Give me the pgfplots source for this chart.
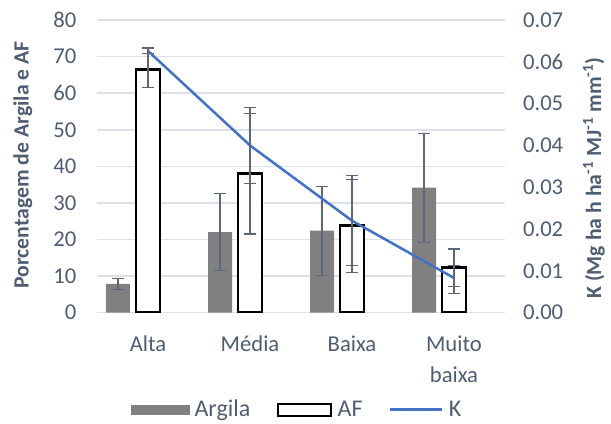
\documentclass[border=0pt]{standalone}
\usepackage{pgfplots}
\pgfplotsset{compat=1.18}
\usepackage{fontspec}
\setmainfont{Carlito}

\definecolor{txt}{HTML}{4F5D73}
\definecolor{gridc}{HTML}{DCE0E8}
\definecolor{argila}{HTML}{808080}
\definecolor{kblue}{HTML}{4472C4}
\definecolor{errc}{HTML}{5C6879}

\pgfplotsset{
  base/.style={
    scale only axis, width=306pt, height=219.5pt,
    xmin=-0.5, xmax=3.5, at={(0,0)},
    major tick length=0pt,
    tick label style={text=txt, font=\fontsize{17}{23.5}\selectfont},
    /pgf/number format/assume math mode=true,
  },
  errs/.style={
    error bars/.cd, y dir=both, y explicit,
    error bar style={errc, line width=0.8pt},
    error mark options={rotate=90, errc, mark size=4.8pt, line width=0.8pt},
  },
}

\begin{document}
\begin{tikzpicture}
\useasboundingbox (-72.75pt,-83.5pt) rectangle (385.5pt,234.5pt);

% Left axis: clay and AF percentages as bars
\begin{axis}[base,
  ybar, bar width=18pt,
  ymin=0, ymax=80, ytick={0,10,...,80},
  ymajorgrids, grid style={gridc, line width=1.2pt},
  axis y line*=left, axis x line*=bottom,
  y axis line style={draw=none},
  x axis line style={gridc, line width=1.2pt, -},
  xtick={0,1,2,3},
  xticklabels={Alta,Média,Baixa,{Muito\\baixa}},
  xticklabel style={align=center, yshift=-14pt},
  yticklabel style={xshift=-12pt},
  ylabel={Porcentagem de Argila e AF},
  ylabel style={at={(axis description cs:-0.182,0.505)}, anchor=center,
    text=txt, font=\bfseries\fontsize{16.3}{20}\selectfont},
]
\addplot[fill=argila, draw=none, bar shift=-22.5pt, errs] coordinates {
  (0,7.9)  +- (0,1.5)
  (1,22.0) +- (0,10.6)
  (2,22.4) +- (0,12.2)
  (3,34.2) +- (0,14.9)
};
\addplot[fill=white, draw=black, line width=1.8pt, bar shift=0pt, errs] coordinates {
  (0,66.5) += (0,5.9)  -= (0,5.0)
  (1,38.0) +- (0,16.5)
  (2,23.8) +- (0,12.7)
  (3,12.4) += (0,5.0)  -= (0,7.1)
};
\end{axis}

% Right axis: erodibility K as a line
\begin{axis}[base,
  ymin=0, ymax=0.07, ytick={0,0.01,...,0.07},
  axis y line*=right, axis x line=none,
  y axis line style={draw=none},
  yticklabel style={xshift=10pt, /pgf/number format/.cd, fixed, fixed zerofill, precision=2},
  scaled y ticks=false,
  ylabel={K (Mg ha h ha\textsuperscript{-1} MJ\textsuperscript{-1} mm\textsuperscript{-1})},
  ylabel style={at={(axis description cs:1.218,0.46)}, anchor=center, rotate=0,
    text=txt, font=\bfseries\fontsize{16.3}{20}\selectfont},
  legend columns=3,
  legend style={at={(0.492,-0.331)}, anchor=center, draw=none, fill=none,
    font=\fontsize{18}{20}\selectfont, text=txt,
    /tikz/every odd column/.append style={column sep=2pt},
    /tikz/every even column/.append style={column sep=18pt}},
]
\addlegendimage{legend image code/.code={\fill[argila] (0pt,-3.5pt) rectangle (43pt,3.5pt);}}
\addlegendentry{Argila}
\addlegendimage{legend image code/.code={\draw[black, line width=1.5pt, fill=white] (0pt,-4.5pt) rectangle (40pt,4.5pt);}}
\addlegendentry{AF}
\addplot[kblue, line width=1.9pt, mark=none,
  legend image code/.code={\draw[kblue, line width=1.8pt] (0pt,0pt) -- (39pt,0pt);},
  errs]
  coordinates {
  (0,0.0626) +- (0,0.0006)
  (1,0.0400) +- (0,0.0090)
  (2,0.0220) +- (0,0.0107)
  (3,0.0083) += (0,0.0030) -= (0,0.0021)
};
\addlegendentry{K}
\end{axis}
\end{tikzpicture}
\end{document}
